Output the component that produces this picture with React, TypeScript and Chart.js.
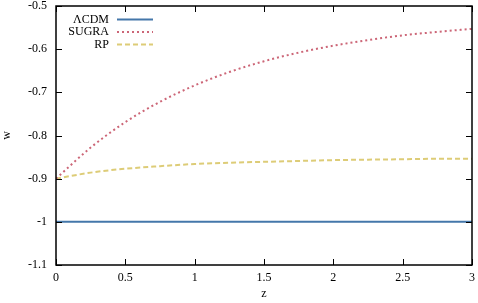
import React, { useEffect, useRef } from "react";
import { Chart, registerables } from "chart.js";

Chart.register(...registerables);

const zValues = [0, 0.25, 0.5, 0.75, 1.0, 1.25, 1.5, 1.75, 2.0, 2.25, 2.5, 2.75, 3.0];
const lcdm = [-1, -1, -1, -1, -1, -1, -1, -1, -1, -1, -1, -1, -1];
const sugra = [-0.9, -0.828, -0.769, -0.722, -0.684, -0.653, -0.628, -0.608, -0.592, -0.579, -0.568, -0.56, -0.553];
const rp = [-0.9, -0.886, -0.877, -0.871, -0.866, -0.863, -0.861, -0.859, -0.857, -0.856, -0.855, -0.854, -0.854];
const seriesLabels = ["ΛCDM", "SUGRA", "RP"];
const xTicks = [0, 0.5, 1, 1.5, 2, 2.5, 3];
const yTicks = [-1.1, -1, -0.9, -0.8, -0.7, -0.6, -0.5];

const FONT = "'Liberation Serif', 'Times New Roman', serif";

const framePlugin = {
  id: "frame",
  afterDraw(chart: any) {
    const ctx = chart.ctx;
    const { left, right, top, bottom } = chart.chartArea;
    const xs = chart.scales.x;
    const ys = chart.scales.y;
    ctx.save();
    ctx.strokeStyle = "#000";
    ctx.lineWidth = 1;
    const tl = 6;
    ctx.beginPath();
    xTicks.forEach((v) => {
      const px = Math.round(xs.getPixelForValue(v)) + 0.5;
      ctx.moveTo(px, bottom);
      ctx.lineTo(px, bottom - tl);
      ctx.moveTo(px, top);
      ctx.lineTo(px, top + tl);
    });
    yTicks.forEach((v) => {
      const py = Math.round(ys.getPixelForValue(v)) + 0.5;
      ctx.moveTo(left, py);
      ctx.lineTo(left + tl, py);
      ctx.moveTo(right, py);
      ctx.lineTo(right - tl, py);
    });
    ctx.stroke();
    ctx.lineWidth = 1.5;
    ctx.strokeRect(left, top, right - left, bottom - top);

    // legend
    ctx.font = `12px ${FONT}`;
    ctx.textAlign = "right";
    ctx.textBaseline = "middle";
    const rows = [19.5, 32, 44.5];
    chart.data.datasets.forEach((ds: any, i: number) => {
      const y = rows[i];
      ctx.fillStyle = "#000";
      ctx.fillText(ds.label, left + 53, y);
      ctx.beginPath();
      ctx.strokeStyle = ds.borderColor;
      ctx.lineWidth = ds.borderWidth;
      ctx.setLineDash(ds.borderDash || []);
      ctx.moveTo(left + 61, y);
      ctx.lineTo(left + 97, y);
      ctx.stroke();
      ctx.setLineDash([]);
    });
    ctx.restore();
  },
};

export default function App() {
  const ref = useRef<HTMLCanvasElement>(null);
  useEffect(() => {
    document.body.style.margin = "0";
    const mk = (data: number[]) => zValues.map((z, i) => ({ x: z, y: data[i] }));
    const chart = new Chart(ref.current!, {
      type: "line",
      data: {
        datasets: [
          { label: seriesLabels[0], data: mk(lcdm), borderColor: "#4477AA", borderWidth: 2, pointRadius: 0, fill: false },
          { label: seriesLabels[1], data: mk(sugra), borderColor: "#CC6677", borderWidth: 2, borderDash: [2, 3], pointRadius: 0, fill: false, cubicInterpolationMode: "monotone" },
          { label: seriesLabels[2], data: mk(rp), borderColor: "#DDCC77", borderWidth: 2, borderDash: [5, 3], pointRadius: 0, fill: false, cubicInterpolationMode: "monotone" },
        ],
      },
      options: {
        animation: false,
        responsive: false,
        maintainAspectRatio: false,
        layout: { padding: { top: 6, right: 6, left: 0, bottom: 0 } },
        plugins: { legend: { display: false }, tooltip: { enabled: false } },
        scales: {
          x: {
            type: "linear",
            min: 0,
            max: 3,
            afterBuildTicks: (s: any) => { s.ticks = xTicks.map((v) => ({ value: v })); },
            afterFit: (s: any) => { s.height = 38; s.paddingLeft = 0; s.paddingRight = 0; },
            grid: { display: false, drawTicks: false },
            border: { display: false },
            ticks: {
              color: "#000",
              font: { family: FONT, size: 12 },
              padding: 6,
              maxRotation: 0,
              callback: (v: any) => String(Math.round(Number(v) * 10) / 10),
            },
            title: { display: true, text: "z", color: "#000", font: { family: FONT, size: 12 }, padding: { top: 0, bottom: 2 } },
          },
          y: {
            type: "linear",
            min: -1.1,
            max: -0.5,
            afterBuildTicks: (s: any) => { s.ticks = yTicks.map((v) => ({ value: v })); },
            afterFit: (s: any) => { s.width = 56; s.paddingTop = 0; s.paddingBottom = 0; },
            grid: { display: false, drawTicks: false },
            border: { display: false },
            ticks: {
              color: "#000",
              font: { family: FONT, size: 12 },
              padding: 9,
              callback: (v: any) => String(Math.round(Number(v) * 10) / 10),
            },
            title: { display: true, text: "w", color: "#000", font: { family: FONT, size: 12 }, padding: { top: 0, bottom: 0 } },
          },
        },
      },
      plugins: [framePlugin],
    } as any);
    return () => chart.destroy();
  }, []);
  return (
    <div style={{ position: "absolute", left: 0, top: 0, width: 478, height: 303 }}>
      <canvas ref={ref} width={478} height={303} style={{ width: 478, height: 303 }} />
    </div>
  );
}
